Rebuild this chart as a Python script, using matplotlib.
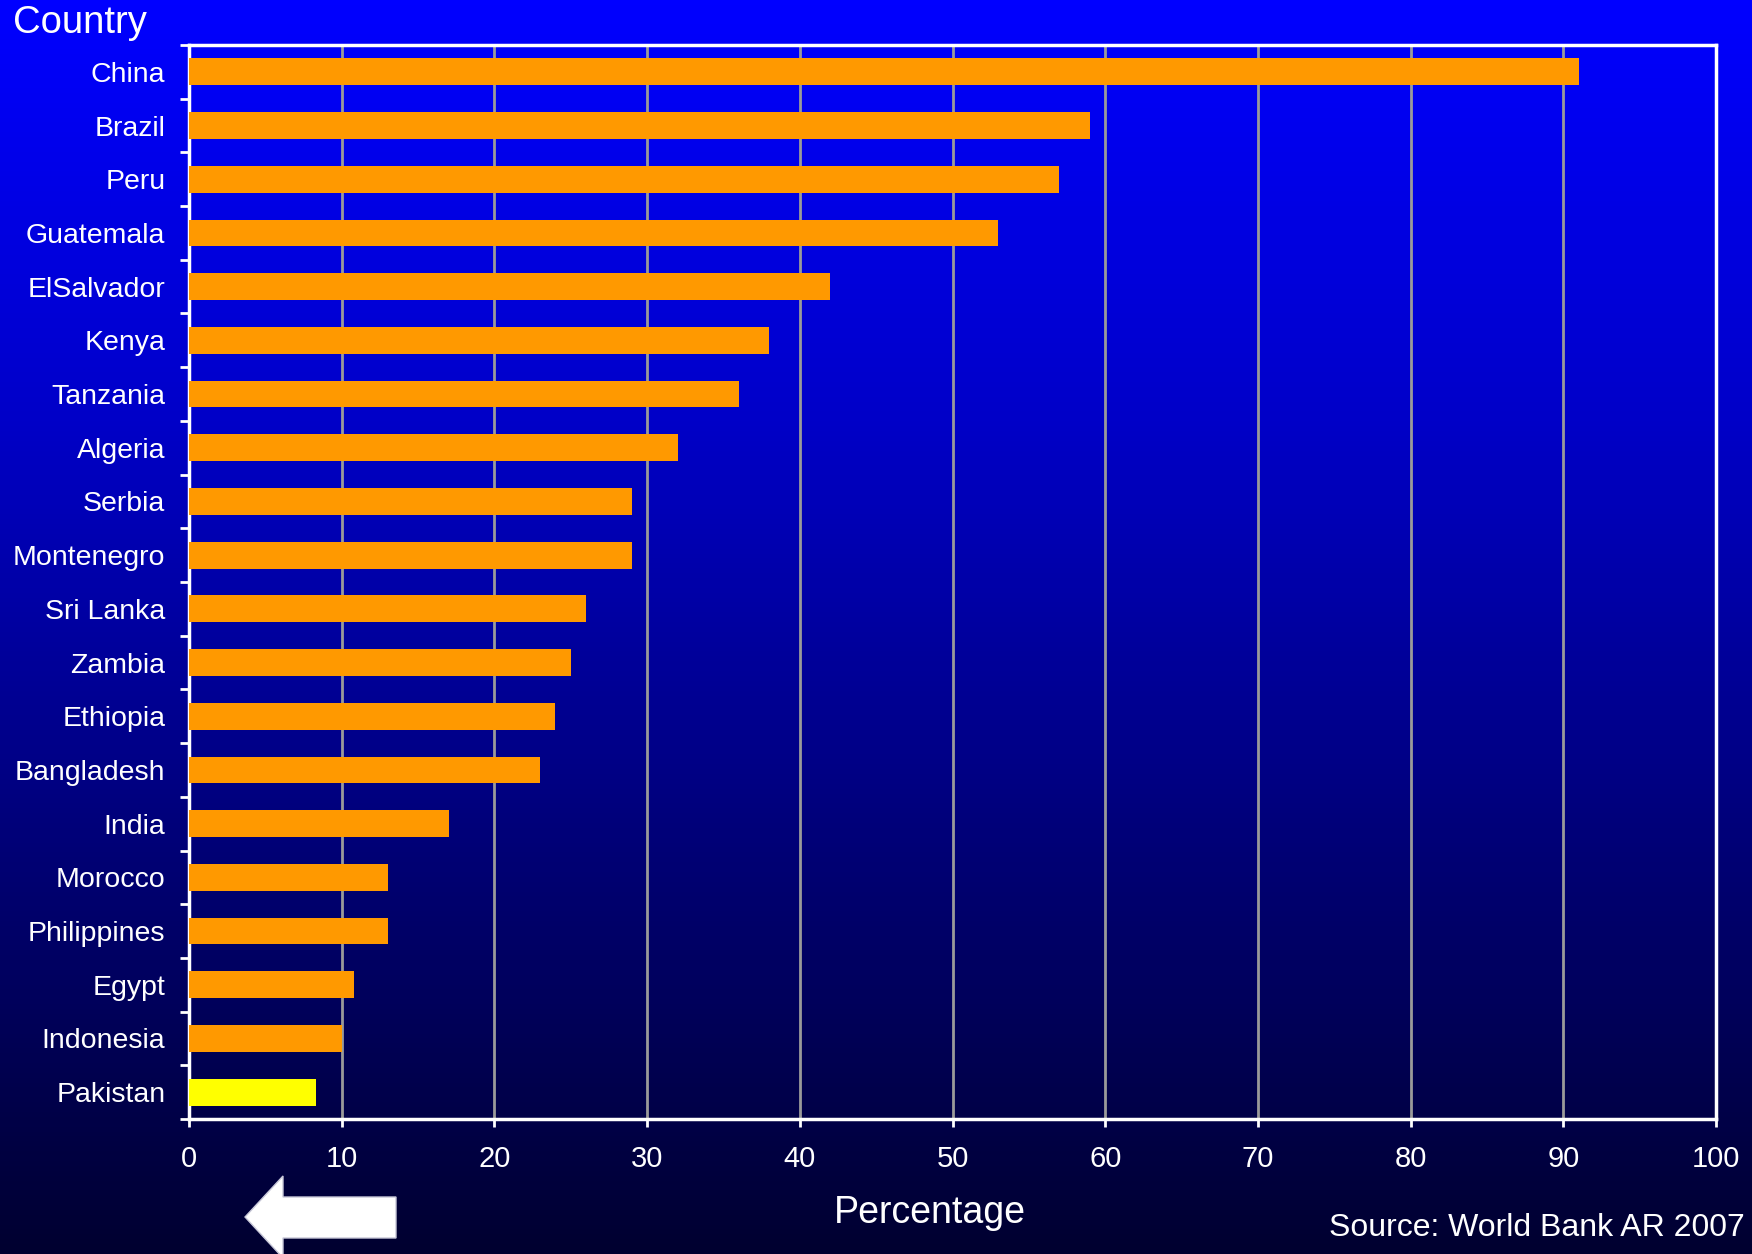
import numpy as np
import matplotlib.pyplot as plt
from matplotlib.colors import LinearSegmentedColormap
from matplotlib.patches import Polygon

countries = ["China", "Brazil", "Peru", "Guatemala", "ElSalvador", "Kenya",
             "Tanzania", "Algeria", "Serbia", "Montenegro", "Sri Lanka",
             "Zambia", "Ethiopia", "Bangladesh", "India", "Morocco",
             "Philippines", "Egypt", "Indonesia", "Pakistan"]
percentages = [91, 59, 57, 53, 42, 38, 36, 32, 29, 29, 26, 25, 24, 23, 17,
               13, 13, 10.8, 10, 8.3]
highlight = "Pakistan"
x_ticks = [0, 10, 20, 30, 40, 50, 60, 70, 80, 90, 100]

plt.rcParams["font.family"] = ["Liberation Sans", "DejaVu Sans"]

W, H = 1752, 1254
fig = plt.figure(figsize=(W / 100, H / 100), dpi=100)

# Gradient background over the whole figure
bg = fig.add_axes([0, 0, 1, 1], zorder=-10)
cmap = LinearSegmentedColormap.from_list("bg", ["#0000FF", "#0000C8", "#000078", "#000030"])
grad = np.linspace(0, 1, 256).reshape(-1, 1)
bg.imshow(grad, aspect="auto", cmap=cmap, extent=[0, 1, 0, 1], origin="upper")
bg.set_axis_off()

# Main axes (pixel box: x 189..1716, y 45..1119)
left, right, top, bottom = 189, 1716, 45, 1119
ax = fig.add_axes([left / W, 1 - bottom / H, (right - left) / W, (bottom - top) / H])
ax.set_facecolor("none")

n = len(countries)
pos = np.arange(n)
colors = ["#FFFF00" if c == highlight else "#FF9900" for c in countries]
ax.barh(pos, percentages, height=0.5, color=colors, zorder=3)

ax.set_xlim(0, 100)
ax.set_ylim(n - 0.5, -0.5)
ax.set_xticks(x_ticks)
ax.set_xticklabels([str(t) for t in x_ticks], fontsize=21, color="white")
ax.set_yticks(pos)
ax.set_yticklabels(countries, fontsize=20.5, color="white")
ax.set_yticks(np.arange(n + 1) - 0.5, minor=True)

ax.tick_params(axis="y", which="major", length=0, pad=17)
ax.tick_params(axis="y", which="minor", length=6.5, width=2, color="white")
ax.tick_params(axis="x", length=6, width=2, color="white", pad=13)

ax.grid(axis="x", color="#9A9A9A", linewidth=2, zorder=1)
ax.set_axisbelow(True)
for s in ax.spines.values():
    s.set_color("white")
    s.set_linewidth(2.5)

fig.text(13 / W, 1 - 23 / H, "Country", fontsize=27.5, color="white", va="center", ha="left")
fig.text(930 / W, 1 - 1213 / H, "Percentage", fontsize=27, color="white", va="center", ha="center")
fig.text(1745 / W, 1 - 1228 / H, "Source: World Bank AR 2007", fontsize=23, color="white",
         va="center", ha="right")

# Left-pointing arrow decoration
arrow_px = [(245, 1217), (283, 1176), (283, 1197), (396, 1197), (396, 1238),
            (283, 1238), (283, 1258)]
arrow = Polygon([(x / W, 1 - y / H) for x, y in arrow_px], closed=True,
                facecolor="white", edgecolor="#C8C8D8", linewidth=1,
                transform=fig.transFigure, clip_on=False)
fig.patches.append(arrow)

fig.savefig("out.png", dpi=100)
